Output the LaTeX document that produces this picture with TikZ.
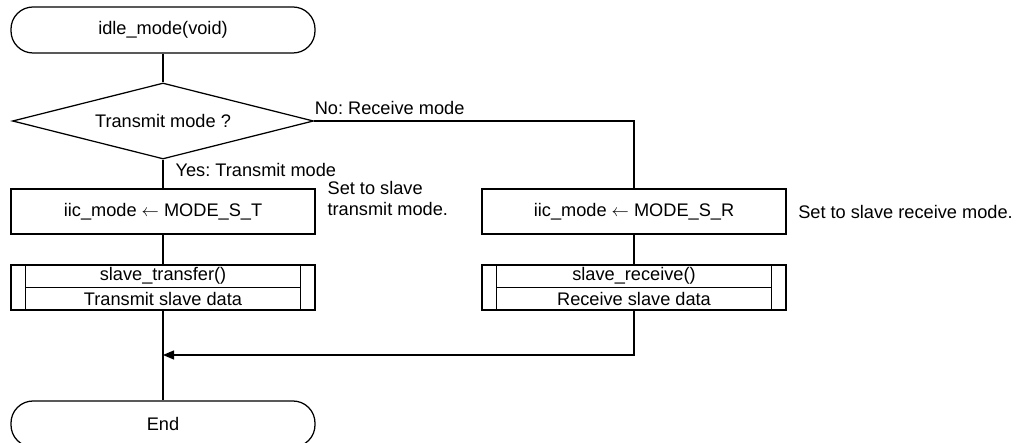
\documentclass[tikz,border=0pt]{standalone}
\usepackage{fontspec}
\setmainfont{Liberation Sans}
\usetikzlibrary{shapes.geometric,arrows.meta,calc}
\frenchspacing
\begin{document}
\begin{tikzpicture}[x=1pt,y=-1pt,
  line width=1.25pt,
  every node/.style={font=\fontsize{18.2}{21}\selectfont, inner sep=0pt},
  term/.style={draw, rounded corners=22pt, minimum width=304pt, minimum height=46pt},
  decide/.style={draw, diamond, aspect=3.96, minimum width=301pt, minimum height=76pt},
  proc/.style={draw, minimum width=304pt, minimum height=45pt},
  subr/.style={draw, minimum width=304pt, minimum height=45pt},
  note/.style={align=left},
  flow/.style={-{Triangle[length=11pt,width=9pt]}}
]
\useasboundingbox (0,0) rectangle (1020,443);

% main column
\node[term]   (start) at (163,30)    {idle\_mode(void)};
\node[decide] (dec)   at (163,121)   {Transmit mode ?};
\node[proc]   (pt)    at (163,211.5) {iic\_mode $\leftarrow$ MODE\_S\_T};
\node[subr]   (st)    at (163,287.5) {};
\node[term]   (end)   at (163,424)   {End};

% receive branch
\node[proc]   (pr)    at (634,211.5) {iic\_mode $\leftarrow$ MODE\_S\_R};
\node[subr]   (sr)    at (634,287.5) {};

% predefined-process boxes: side bars and split line
\foreach \s in {st,sr} {
  \draw ([xshift=15pt]\s.north west) -- ([xshift=15pt]\s.south west);
  \draw ([xshift=-15pt]\s.north east) -- ([xshift=-15pt]\s.south east);
  \draw ([xshift=15pt]\s.west) -- ([xshift=-15pt]\s.east);
}
\node (stt) at ($(st.center)+(0,-11.5)$) {slave\_transfer()};
\node (stb) at ($(st.center)+(0,11.5)$)  {Transmit slave data};
\node (srt) at ($(sr.center)+(0,-11.5)$) {slave\_receive()};
\node (srb) at ($(sr.center)+(0,11.5)$)  {Receive slave data};

% branch labels and comments
\node[anchor=base west] (nolab)  at ($(dec.east)+(0,-6)$)   {No: Receive mode};
\node[anchor=base west] (yeslab) at ($(dec.south)+(12,17)$) {Yes: Transmit mode};
\node[note, anchor=north west] (ntx) at (327,181) {Set to slave\\transmit mode.};
\node[anchor=west] (nrx) at ($(pr.east)+(11,0)$) {Set to slave receive mode.};

% connectors
\coordinate (join) at (163,355);
\draw (start.south) -- (dec.north);
\draw (dec.south) -- (pt.north);
\draw (pt.south) -- (st.north);
\draw (st.south) -- (end.north);
\draw (dec.east) -| (pr.north);
\draw (pr.south) -- (sr.north);
\draw[flow] (sr.south) |- (join);
\end{tikzpicture}
\end{document}
